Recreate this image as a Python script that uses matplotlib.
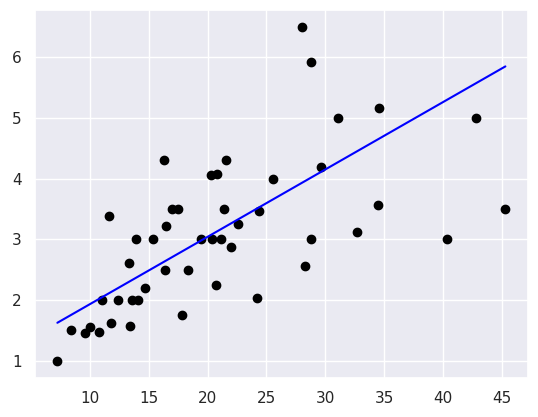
import matplotlib
matplotlib.use("Agg")
import matplotlib.pyplot as plt
import seaborn as sns
import numpy as np

sns.set_theme()

total_bill = [7.24, 8.4, 9.6, 10.0, 10.75, 11.0, 11.6, 11.8, 12.35, 13.35, 13.4, 13.6,
              13.9, 14.1, 14.7, 15.4, 16.3, 16.4, 16.5, 17.0, 17.45, 17.8, 18.3, 19.4,
              20.3, 20.4, 20.7, 20.8, 21.1, 21.4, 21.6, 22.0, 22.6, 24.2, 24.4, 25.6,
              28.0, 28.3, 28.8, 28.8, 29.6, 31.1, 32.7, 34.5, 34.6, 40.3, 42.8, 45.3]
tip = [1.0, 1.51, 1.46, 1.56, 1.48, 2.0, 3.39, 1.63, 2.0, 2.61, 1.57, 2.0,
       3.0, 2.0, 2.2, 3.0, 4.31, 2.5, 3.23, 3.5, 3.5, 1.76, 2.5, 3.0,
       4.06, 3.0, 2.25, 4.08, 3.0, 3.5, 4.31, 2.88, 3.25, 2.03, 3.47, 4.0,
       6.5, 2.56, 5.92, 3.0, 4.19, 5.0, 3.12, 3.56, 5.17, 3.0, 5.0, 3.5]

# fitted line as shown in the reference
fit_slope = 0.1108
fit_intercept = 0.828

x = np.array(total_bill)
y = np.array(tip)

fig, ax = plt.subplots(figsize=(5.38, 4.17), dpi=100)
fig.subplots_adjust(left=0.065, right=0.981, top=0.976, bottom=0.094)
ax.scatter(x, y, color="black")
ax.plot(x, fit_slope * x + fit_intercept, color="blue")
fig.savefig("out.png")
